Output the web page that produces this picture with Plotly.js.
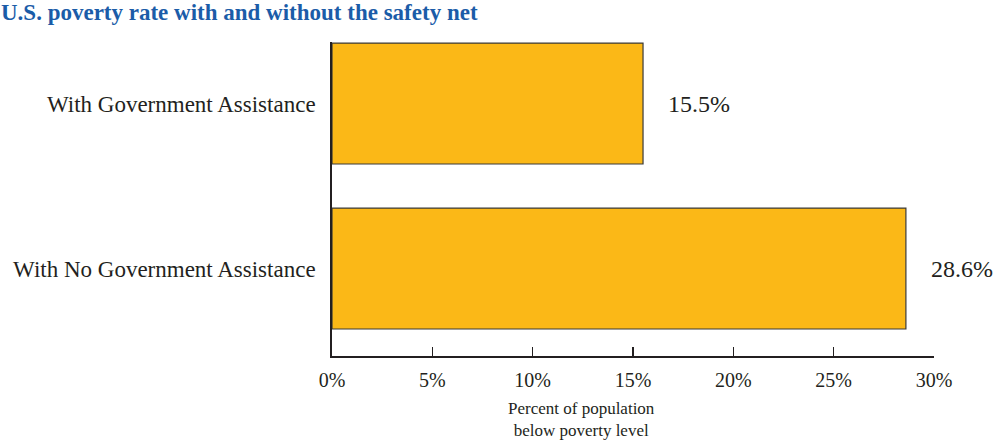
<!DOCTYPE html>
<html>
<head>
<meta charset="utf-8">
<script src="https://cdn.plot.ly/plotly-3.0.1.min.js"></script>
<style>html,body{margin:0;padding:0;background:#fff;}#chart{width:998px;height:443px;}</style>
</head>
<body>
<div id="chart"></div>
<script>
var categories = ["With No Government Assistance", "With Government Assistance"];
var povertyRates = [28.6, 15.5];
var valueLabels = ["28.6%", "15.5%"];
var tickValues = [0, 5, 10, 15, 20, 25, 30];
var tickLabels = ["0%", "5%", "10%", "15%", "20%", "25%", "30%"];
var axisTitle = "Percent of population<br>below poverty level";
var chartTitle = "U.S. poverty rate with and without the safety net";

var ink = "#231f20";
var serif = "Liberation Serif, Times New Roman, serif";

var trace = {
  type: "bar",
  orientation: "h",
  y: categories,
  x: povertyRates,
  marker: {color: "#fbb817", line: {color: "#3a3a3a", width: 1.2}},
  hoverinfo: "none"
};

var annotations = categories.map(function (c, i) {
  return {
    x: povertyRates[i], y: c, xref: "x", yref: "y",
    text: valueLabels[i], showarrow: false,
    xanchor: "left", yanchor: "middle", xshift: 23,
    font: {family: serif, size: 24, color: ink}
  };
});
annotations.push({
  x: 0.415, y: 0, xref: "paper", yref: "paper",
  yanchor: "top", xanchor: "center", yshift: -41,
  text: axisTitle, showarrow: false,
  font: {family: serif, size: 17, color: ink}
});

var layout = {
  width: 998, height: 443,
  margin: {l: 332, r: 64, t: 42, b: 87},
  paper_bgcolor: "#ffffff", plot_bgcolor: "#ffffff",
  showlegend: false,
  bargap: 0.267,
  title: {
    text: "<b>" + chartTitle + "</b>",
    font: {family: serif, size: 23, color: "#1b5ca8"},
    xref: "container", yref: "container",
    x: 0.001, xanchor: "left", y: 1, yanchor: "top", pad: {t: 4}
  },
  xaxis: {
    range: [0, 30],
    tickmode: "array", tickvals: tickValues, ticktext: tickLabels,
    ticks: "inside", ticklen: 9, tickwidth: 1.5, tickcolor: ink,
    showline: true, linecolor: ink, linewidth: 1.8,
    showgrid: false, zeroline: false,
    tickfont: {family: serif, size: 20, color: ink},
    ticklabelstandoff: 5,
    fixedrange: true
  },
  yaxis: {
    type: "category", categoryorder: "array", categoryarray: categories,
    range: [-0.53, 1.373],
    showline: true, linecolor: ink, linewidth: 1.8,
    ticks: "", showgrid: false, zeroline: false,
    tickfont: {family: serif, size: 23, color: ink},
    ticklabelstandoff: 10,
    fixedrange: true
  },
  annotations: annotations
};

Plotly.newPlot("chart", [trace], layout, {displayModeBar: false, staticPlot: true});
</script>
</body>
</html>
